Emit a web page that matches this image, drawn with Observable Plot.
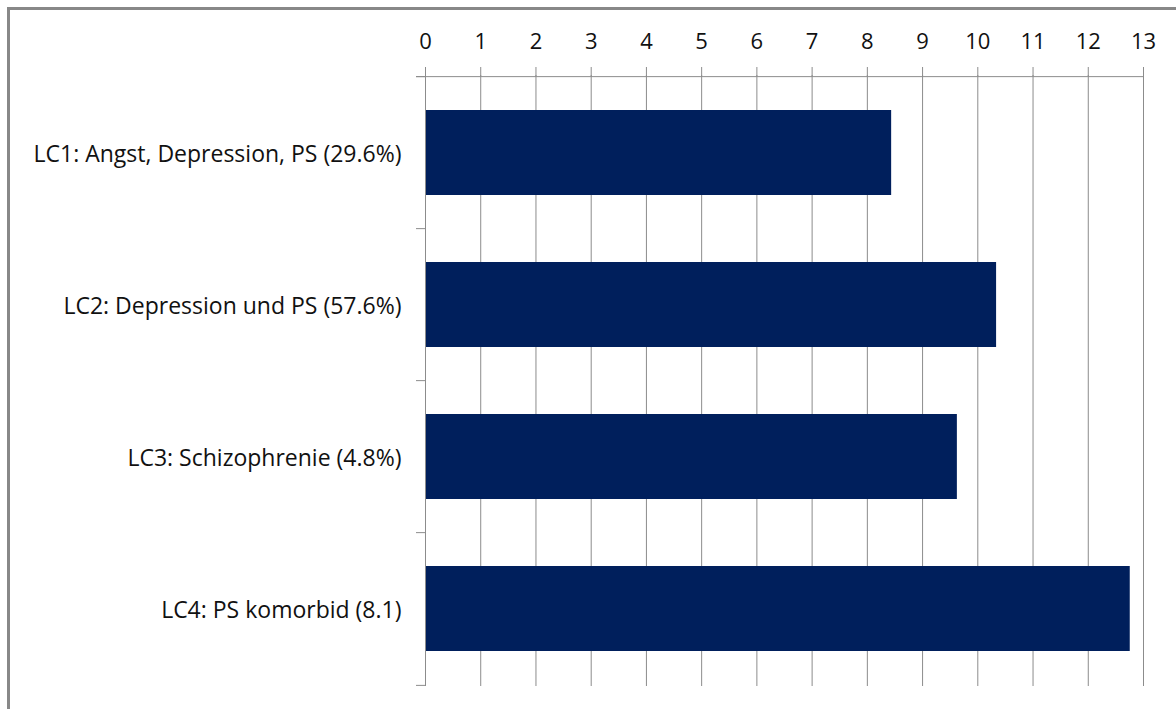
<!DOCTYPE html>
<html>
<head>
<meta charset="utf-8">
<script src="https://cdn.jsdelivr.net/npm/d3@7"></script>
<script src="https://cdn.jsdelivr.net/npm/@observablehq/plot@0.6"></script>
<style>
  html, body { margin: 0; padding: 0; background: #fff; }
  #wrap { position: relative; width: 1176px; height: 709px; overflow: hidden; }
  #frame { position: absolute; left: 7px; top: 7px; right: -10px; bottom: -10px;
           border-left: 3px solid #888; border-top: 3px solid #888; pointer-events: none; }
  #chart { position: absolute; left: 0; top: 0; }
</style>
</head>
<body>
<div id="wrap"><div id="chart"></div><div id="frame"></div></div>
<script>
const categories = [
  "LC1: Angst, Depression, PS (29.6%)",
  "LC2: Depression und PS (57.6%)",
  "LC3: Schizophrenie (4.8%)",
  "LC4: PS komorbid (8.1)"
];
const values = [8.44, 10.34, 9.63, 12.76];
const xTicks = [0, 1, 2, 3, 4, 5, 6, 7, 8, 9, 10, 11, 12, 13];

const data = categories.map((c, i) => ({category: c, value: values[i]}));

const W = 1176, H = 709, mT = 75, mB = 23, mL = 425, mR = 33;
const step = (H - mT - mB) / categories.length;
const gridColor = "#8c8c8c";

const chart = Plot.plot({
  width: W, height: H,
  marginTop: mT, marginBottom: mB, marginLeft: mL, marginRight: mR,
  style: {fontFamily: "'Open Sans', Lato, sans-serif", fontSize: "21px", color: "#111", background: "transparent"},
  x: {domain: [0, 13]},
  y: {domain: categories, paddingInner: 0.4435, paddingOuter: 0.22175},
  marks: [
    Plot.gridX({ticks: xTicks, stroke: gridColor, strokeOpacity: 1}),
    Plot.barX(data, {y: "category", x: "value", fill: "#001f5c"}),
    Plot.ruleX([0], {stroke: gridColor}),
    Plot.ruleY([categories[0]], {y: d => d, x1: 0, x2: 13, insetLeft: -9, dy: -step / 2, stroke: gridColor}),
    Plot.ruleY(categories, {y: d => d, x1: 0, x2: 0, insetLeft: -9, dy: -step / 2, stroke: gridColor}),
    Plot.ruleY([categories[categories.length - 1]], {y: d => d, x1: 0, x2: 0, insetLeft: -9, dy: step / 2, stroke: gridColor}),
    Plot.axisX({anchor: "top", ticks: xTicks, tickSize: 9, tickPadding: 18, fontSize: 22, stroke: gridColor, strokeOpacity: 1, label: null, tickFormat: d => String(d)}),
    Plot.axisY({tickSize: 0, tickPadding: 24, fontSize: 23, dy: 2, label: null})
  ]
});
document.getElementById("chart").appendChild(chart);
</script>
</body>
</html>
